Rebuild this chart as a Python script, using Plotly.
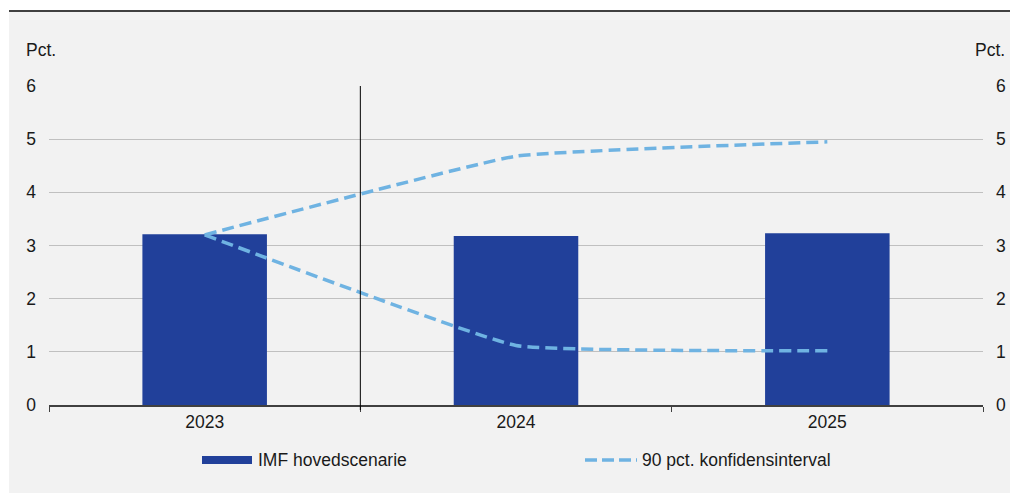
import plotly.graph_objects as go

years = ["2023", "2024", "2025"]
imf_main = [3.21, 3.18, 3.23]
upper_ci = [3.2, 4.68, 4.95]
lower_ci = [3.2, 1.12, 1.02]
y_ticks = [0, 1, 2, 3, 4, 5, 6]

bar_col = "#21409a"
line_col = "#6fb3e2"
bg = "#f2f2f2"
font = "Liberation Sans, Arial, sans-serif"

W, H = 1010, 493
L, R, T, B = 49, 27, 86, 88


def px_x(p):
    return (p - L) / (W - L - R)


def px_y(p):
    return (H - B - p) / (H - T - B)


fig = go.Figure()
fig.add_trace(go.Bar(x=years, y=imf_main, marker_color=bar_col, marker_line_width=0,
                     name="IMF hovedscenarie", showlegend=False))
for vals in (upper_ci, lower_ci):
    fig.add_trace(go.Scatter(x=years, y=vals, mode="lines", yaxis="y2",
                             line=dict(color=line_col, width=3.5, dash="12px,6px",
                                       shape="spline", smoothing=0.3),
                             showlegend=False, cliponaxis=False))

shapes = [
    # grey panel and top rule
    dict(type="rect", xref="paper", yref="paper", x0=px_x(9), x1=px_x(1012),
         y0=px_y(494), y1=px_y(12), fillcolor=bg, line_width=0, layer="below"),
    dict(type="line", xref="paper", yref="paper", x0=px_x(9), x1=px_x(1012),
         y0=px_y(11), y1=px_y(11), line=dict(color="black", width=1.5)),
    # divider between actual and forecast
    dict(type="line", xref="x", yref="paper", x0=0.5, x1=0.5, y0=px_y(410), y1=1,
         line=dict(color="black", width=1)),
    # legend swatches
    dict(type="rect", xref="paper", yref="paper", x0=px_x(202), x1=px_x(252),
         y0=px_y(464), y1=px_y(456), fillcolor=bar_col, line_width=0),
    dict(type="line", xref="paper", yref="paper", x0=px_x(585), x1=px_x(637),
         y0=px_y(460), y1=px_y(460), line=dict(color=line_col, width=3.5, dash="12px,5px")),
]

annotations = [
    dict(text="Pct.", xref="paper", yref="paper", x=px_x(24), y=px_y(50),
         xanchor="left", yanchor="middle", showarrow=False),
    dict(text="Pct.", xref="paper", yref="paper", x=px_x(1007), y=px_y(50),
         xanchor="right", yanchor="middle", showarrow=False),
    dict(text="IMF hovedscenarie", xref="paper", yref="paper", x=px_x(256), y=px_y(460),
         xanchor="left", yanchor="middle", showarrow=False),
    dict(text="90 pct. konfidensinterval", xref="paper", yref="paper", x=px_x(640),
         y=px_y(460), xanchor="left", yanchor="middle", showarrow=False),
]

fig.update_layout(
    width=W + 8, height=H, autosize=False,
    margin=dict(l=L, r=R, t=T, b=B),
    paper_bgcolor="white", plot_bgcolor=bg,
    font=dict(family=font, size=17.5, color="#1a1a1a"),
    bargap=0.6,
    shapes=shapes, annotations=annotations,
    xaxis=dict(type="category", tickson="boundaries", ticks="outside", ticklen=5,
               tickcolor="#404040", showline=True, linecolor="#404040", linewidth=1.5,
               showgrid=False, zeroline=False),
    yaxis=dict(range=[0, 6], tickvals=y_ticks, showgrid=True, gridcolor="#c0c0c0",
               gridwidth=1, zeroline=False, showline=False, ticks="",
               ticklabelstandoff=12),
    yaxis2=dict(range=[0, 6], tickvals=y_ticks, overlaying="y", side="right",
                showgrid=False, zeroline=False, showline=False, ticks="",
                ticklabelstandoff=12),
    showlegend=False,
)

fig.write_html("out.html", config={"displayModeBar": False, "responsive": False},
               post_script="document.body.style.margin='0';document.body.style.overflow='hidden';")
